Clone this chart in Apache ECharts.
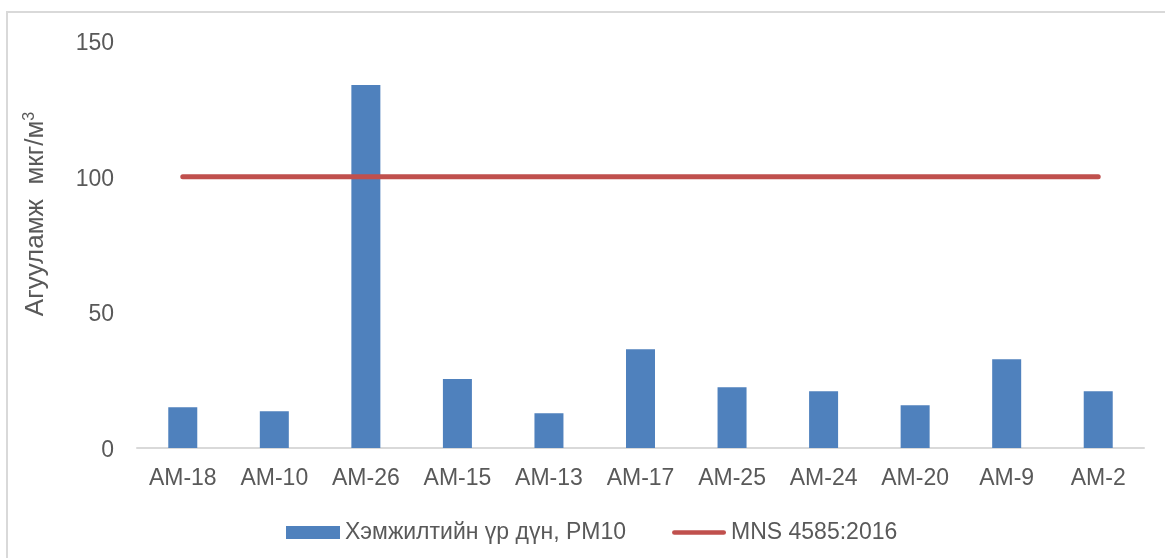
<!DOCTYPE html>
<html>
<head>
<meta charset="utf-8">
<script src="https://cdn.jsdelivr.net/npm/echarts@6/dist/echarts.min.js"></script>
<style>
  html, body { margin: 0; padding: 0; background: #ffffff; }
  #chart { width: 1165px; height: 558px; }
</style>
</head>
<body>
<div id="chart"></div>
<script>
// Monitoring points along the x axis
const categories = ['AM-18', 'AM-10', 'AM-26', 'AM-15', 'AM-13', 'AM-17', 'AM-25', 'AM-24', 'AM-20', 'AM-9', 'AM-2'];
// Measured PM10 concentration, µg/m³
const pm10Values = [15.0, 13.5, 133.8, 25.4, 12.8, 36.4, 22.4, 20.9, 15.8, 32.7, 20.9];
// Permissible level from MNS 4585:2016
const standardValues = [100, 100, 100, 100, 100, 100, 100, 100, 100, 100, 100];
const yTicks = [0, 50, 100, 150];

const barName = 'Хэмжилтийн үр дүн, PM10';
const lineName = 'MNS 4585:2016';
const textColor = '#595959';
const barColor = '#4F81BD';
const lineColor = '#C0504D';
const fontFamily = '"Liberation Sans", Arial, sans-serif';

// Thick rounded stroke used as the legend key of the limit line
const lineKeyIcon = 'path://M2.5,0 L54.5,0 A2.5,2.5 0 0 1 54.5,5 L2.5,5 A2.5,2.5 0 0 1 2.5,0 Z';

const chart = echarts.init(document.getElementById('chart'), null, { renderer: 'canvas' });

chart.setOption({
  backgroundColor: '#ffffff',
  animation: false,
  textStyle: { fontFamily: fontFamily, color: textColor },
  graphic: [
    {
      type: 'rect',
      shape: { x: 7, y: 12, width: 1170, height: 560 },
      style: { fill: 'none', stroke: '#d9d9d9', lineWidth: 2 },
      silent: true
    },
    {
      type: 'text',
      x: 36,
      y: 214,
      rotation: Math.PI / 2,
      style: {
        text: 'Агууламж  мкг/м{sup|3}',
        fontFamily: fontFamily,
        fontSize: 26,
        fill: textColor,
        align: 'center',
        verticalAlign: 'middle',
        rich: {
          sup: { fontSize: 16, fill: textColor, verticalAlign: 'top', padding: [0, 0, 12, 0] }
        }
      }
    }
  ],
  legend: {
    left: 281,
    top: 516,
    itemWidth: 54,
    itemHeight: 13,
    itemGap: 46,
    symbolKeepAspect: true,
    textStyle: { fontSize: 23, color: textColor, fontFamily: fontFamily },
    data: [
      { name: barName, icon: 'rect' },
      { name: lineName, icon: lineKeyIcon, itemStyle: { color: lineColor } }
    ]
  },
  grid: { left: 137, right: 21, top: 41, bottom: 110, containLabel: false },
  xAxis: {
    type: 'category',
    data: categories,
    axisLine: { show: true, lineStyle: { color: '#d9d9d9', width: 2 } },
    axisTick: { show: false },
    axisLabel: { fontSize: 23, color: textColor, margin: 19, interval: 0 },
    splitLine: { show: false }
  },
  yAxis: {
    type: 'value',
    min: yTicks[0],
    max: yTicks[yTicks.length - 1],
    interval: yTicks[1] - yTicks[0],
    axisLine: { show: false },
    axisTick: { show: false },
    splitLine: { show: false },
    axisLabel: { fontSize: 23, color: textColor, margin: 23, verticalAlign: 'top', lineHeight: 5 }
  },
  series: [
    {
      name: barName,
      type: 'bar',
      data: pm10Values,
      barWidth: 29,
      itemStyle: { color: barColor },
      z: 2
    },
    {
      name: lineName,
      type: 'line',
      data: standardValues,
      symbol: 'none',
      lineStyle: { color: lineColor, width: 5, cap: 'round' },
      itemStyle: { color: lineColor },
      z: 3
    }
  ]
});
</script>
</body>
</html>
